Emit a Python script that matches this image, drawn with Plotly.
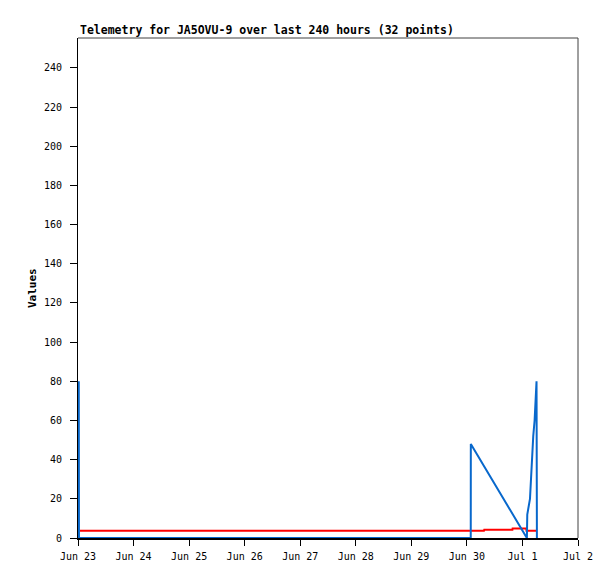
import plotly.graph_objects as go

# ---- data ----
blue_times = [
    "2024-06-23 00:20", "2024-06-23 00:25", "2024-06-30 01:40", "2024-06-30 01:42",
    "2024-07-01 01:55", "2024-07-01 02:05", "2024-07-01 03:15", "2024-07-01 03:50",
    "2024-07-01 04:40", "2024-07-01 05:15", "2024-07-01 05:40", "2024-07-01 06:05",
    "2024-07-01 06:15",
]
blue_values = [80, 0, 0, 48, 0, 12, 20, 36, 52, 60, 75, 80, 0]

red_times = [
    "2024-06-23 00:52", "2024-06-30 07:22", "2024-06-30 07:30", "2024-06-30 19:40",
    "2024-06-30 19:45", "2024-07-01 01:40", "2024-07-01 01:45", "2024-07-01 05:51",
]
red_values = [3.7, 3.7, 4.2, 4.2, 4.9, 4.9, 3.7, 3.7]

x_range = ["2024-06-23 00:00", "2024-07-02 00:00"]
y_range = [0, 255.3]
y_ticks = list(range(0, 241, 20))
title_text = "Telemetry for JA5OVU-9 over last 240 hours (32 points)"
y_title = "Values"

MONO = "DejaVu Sans Mono, Liberation Mono, monospace"

fig = go.Figure()
fig.add_trace(go.Scatter(x=red_times, y=red_values, mode="lines",
                         line=dict(color="#ff0000", width=2), showlegend=False))
fig.add_trace(go.Scatter(x=blue_times, y=blue_values, mode="lines",
                         line=dict(color="#0868cc", width=2), showlegend=False))

fig.update_layout(
    width=607, height=571,
    margin=dict(l=70, r=37, t=30, b=41),
    paper_bgcolor="white", plot_bgcolor="white",
    font=dict(family=MONO, size=10, color="black"),
    showlegend=False,
    xaxis=dict(
        type="date", range=x_range, dtick=86400000, tick0=x_range[0],
        tickformat="%b %-d", showgrid=False, zeroline=False,
        showline=True, linecolor="black", linewidth=2,
        ticks="outside", ticklen=6, tickwidth=1, tickcolor="black",
        ticklabelstandoff=2,
        tickfont=dict(family=MONO, size=10, color="black"),
    ),
    yaxis=dict(
        range=y_range, tickvals=y_ticks, showgrid=False, zeroline=False,
        showline=True, linecolor="black", linewidth=1,
        ticks="outside", ticklen=7, tickwidth=1, tickcolor="black",
        ticklabelstandoff=6,
        tickfont=dict(family=MONO, size=10, color="black"),
    ),
    shapes=[
        dict(type="line", xref="paper", yref="paper", x0=0, y0=1, x1=1, y1=1,
             line=dict(color="#404040", width=1)),
        dict(type="line", xref="paper", yref="paper", x0=1, y0=1, x1=1, y1=0,
             line=dict(color="#404040", width=1)),
    ],
    annotations=[
        dict(text="<b>" + title_text + "</b>", xref="paper", yref="paper",
             x=0, y=1, xanchor="left", yanchor="bottom", yshift=-1, showarrow=False,
             font=dict(family=MONO, size=11.5, color="black")),
        dict(text="<b>" + y_title + "</b>", xref="paper", yref="paper",
             x=-0.092, y=0.5, xanchor="center", yanchor="middle", textangle=-90,
             showarrow=False, font=dict(family=MONO, size=11, color="black")),
    ],
)

fig.write_html("out.html")
